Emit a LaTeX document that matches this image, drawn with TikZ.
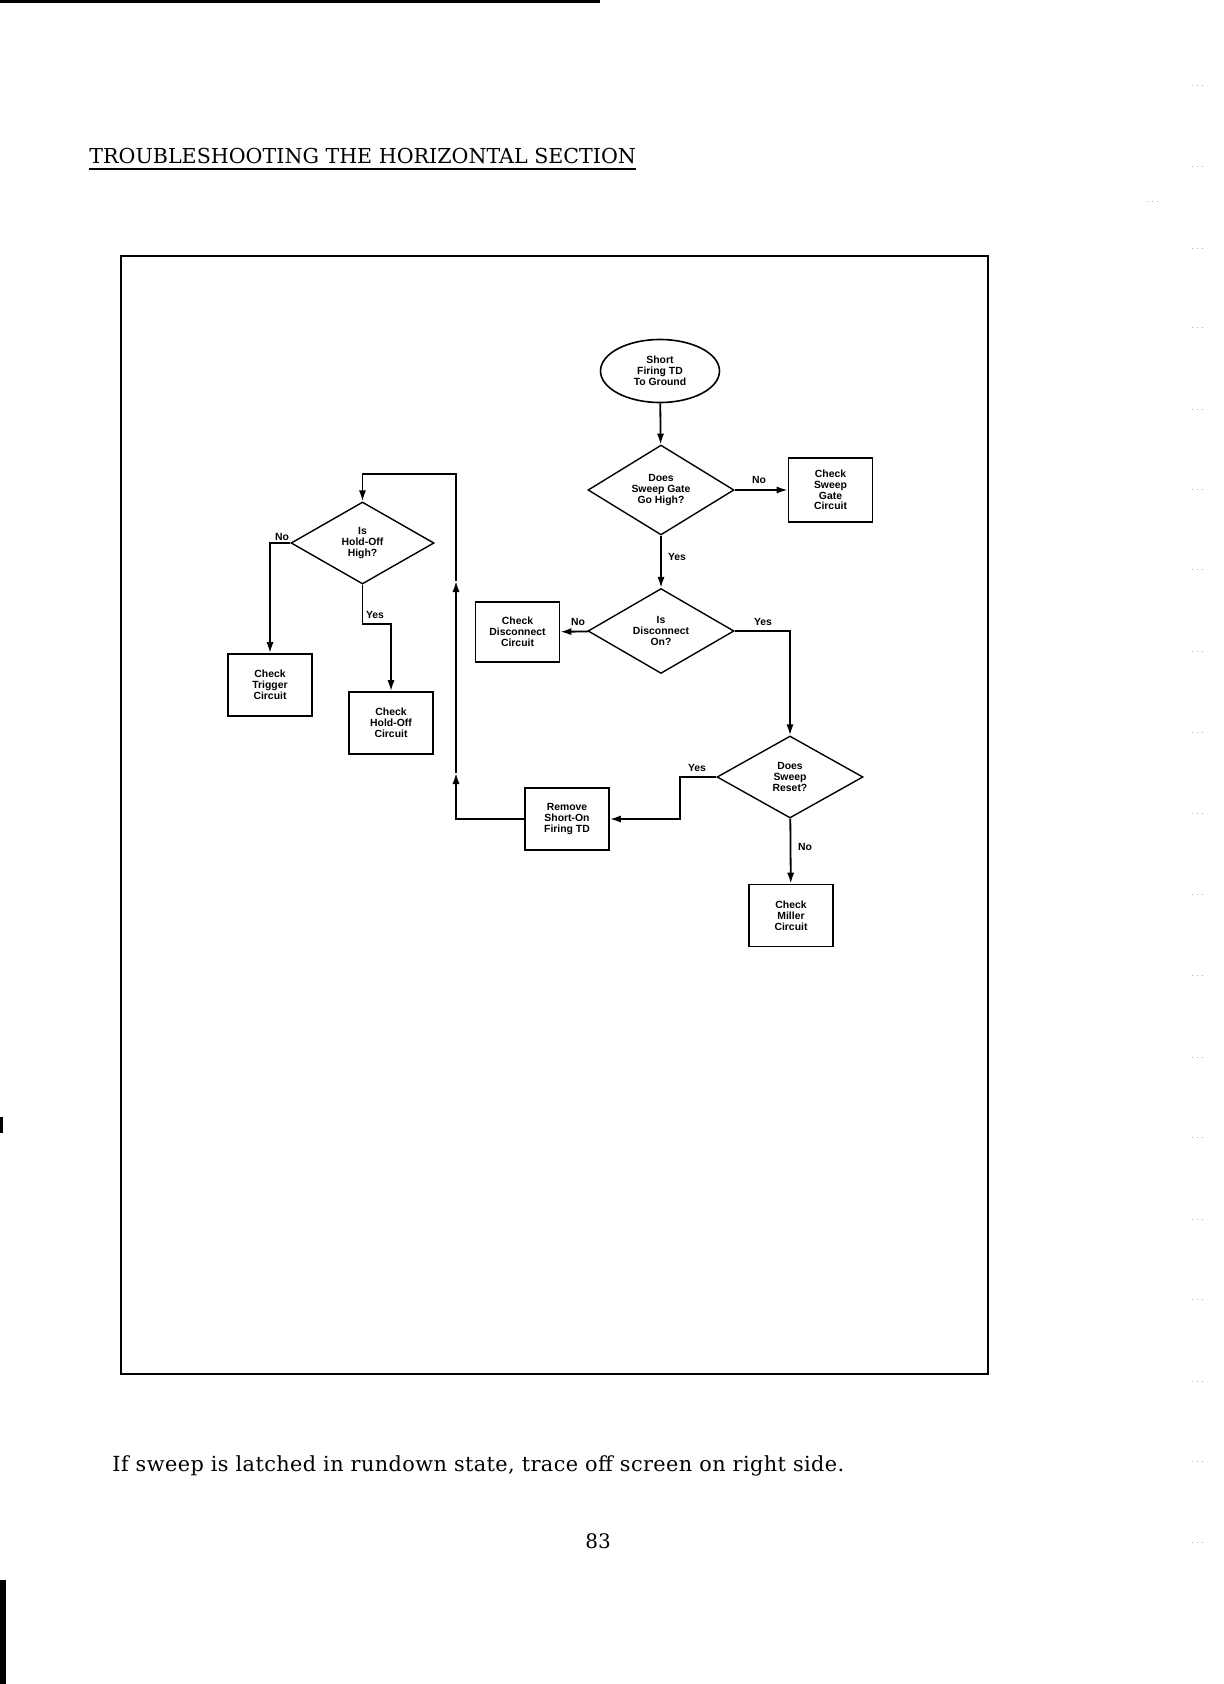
\documentclass[tikz,border=0pt]{standalone}
\usepackage{fontspec}
\setmainfont{DejaVu Serif}
\newfontfamily\chartfont{Liberation Sans}
\usetikzlibrary{positioning, arrows.meta, shapes.geometric}

\begin{document}
\begin{tikzpicture}[x=0.5pt, y=-0.5pt, >={Latex[length=5.5pt,width=3.6pt]},
    chart/.style={font=\chartfont\fontsize{5.2}{5.4}\bfseries, align=center},
    terminal/.style={chart, ellipse, draw, line width=0.8pt, inner sep=0pt, minimum width=59.5pt, minimum height=31.5pt},
    decision/.style={chart, diamond, draw, line width=0.7pt, inner sep=0pt, minimum width=73pt, minimum height=41pt},
    checkbox/.style={chart, rectangle, draw, line width=0.9pt, inner sep=0pt, minimum width=42pt, minimum height=31pt},
    answer/.style={chart, inner sep=0pt},
    flow/.style={->, line width=0.9pt}]
    \useasboundingbox (0,0) rectangle (1224,1684);
    % Scan marks
    \fill (0,0) rectangle (600,3);
    \fill (0,1580) rectangle (6,1684);
    \fill (0,1117) rectangle (3,1133);
    \foreach \y in {85,166,248,327,409,489,569,651,732,813,894,975,1057,1137,1219,1299,1381,1461,1542}
        {\draw[gray!60, line width=0.4pt, dotted] (1192,\y) -- (1203,\y);}
    \draw[gray!60, line width=0.4pt, dotted] (1147,201) -- (1157,201);
    % Title
    \node[font=\fontsize{10.3}{12}\selectfont, anchor=base west, inner sep=0pt] (title) at (89,164) {TROUBLESHOOTING THE HORIZONTAL SECTION};
    \draw[line width=1pt] (89,169) -- (636,169);
    % Frame
    \draw[line width=1pt] (121,256) rectangle (988,1374);
    % Main column
    \node[terminal] (start) at (660,371) {Short\\Firing TD\\To Ground};
    \node[decision] (dGate) at (661,490) {Does\\Sweep Gate\\Go High?};
    \node[checkbox, minimum height=32pt] (bGate) at (830.5,490) {Check\\Sweep\\Gate\\Circuit};
    \node[decision] (dDisc) at (661,631) {Is\\Disconnect\\On?};
    \node[checkbox, minimum height=30pt] (bDisc) at (517.5,632) {Check\\Disconnect\\Circuit};
    \node[decision] (dReset) at (790,777) {Does\\Sweep\\Reset?};
    \node[checkbox] (bRemove) at (567,819) {Remove\\Short-On\\Firing TD};
    \node[checkbox] (bMiller) at (791,915.5) {Check\\Miller\\Circuit};
    % Hold-off branch
    \node[decision, minimum width=71.5pt] (dHold) at (362.5,543) {Is\\Hold-Off\\High?};
    \node[checkbox] (bTrig) at (270,685) {Check\\Trigger\\Circuit};
    \node[checkbox] (bHoldOff) at (391,723) {Check\\Hold-Off\\Circuit};
    % Bends
    \coordinate (resetJog) at (680,777);
    \coordinate (holdJog) at (362.5,624);
    \coordinate (retA) at (456,773);
    \coordinate (retB) at (456,581);
    \coordinate (retC) at (456,474);
    % Connectors
    \draw[flow] (start) -- (dGate);
    \draw[flow] (dGate) -- (bGate);
    \draw[flow] (dGate) -- (dDisc);
    \draw[flow] (dDisc) -- (bDisc);
    \draw[flow] (dDisc.east) -| (dReset.north);
    \draw[flow] (dReset.west) -- (resetJog) |- (bRemove.east);
    \draw[flow] (dReset) -- (bMiller);
    \draw[flow] (bRemove.west) -| (retA);
    \draw[flow] (retA) -- (retB);
    \draw[flow] (retB) -- (retC) -| (dHold.north);
    \draw[flow] (dHold.west) -| (bTrig.north);
    \draw[flow] (dHold.south) -- (holdJog) -| (bHoldOff.north);
    % Answers
    \node[answer] (aGateNo) at (759,480) {No};
    \node[answer] (aGateYes) at (677,557) {Yes};
    \node[answer] (aDiscNo) at (578,622) {No};
    \node[answer] (aDiscYes) at (763,622) {Yes};
    \node[answer] (aResetYes) at (697,768) {Yes};
    \node[answer] (aResetNo) at (805,847) {No};
    \node[answer] (aHoldNo) at (282,537) {No};
    \node[answer] (aHoldYes) at (375,615) {Yes};
    % Caption and page number
    \node[font=\fontsize{10.4}{12}\selectfont\addfontfeatures{LetterSpace=2}, anchor=base west, inner sep=0pt] (caption) at (112,1471) {If sweep is latched in rundown state, trace off screen on right side.};
    \node[font=\fontsize{10}{12}\selectfont, anchor=base, inner sep=0pt] (pageno) at (598,1548) {83};
\end{tikzpicture}
\end{document}
